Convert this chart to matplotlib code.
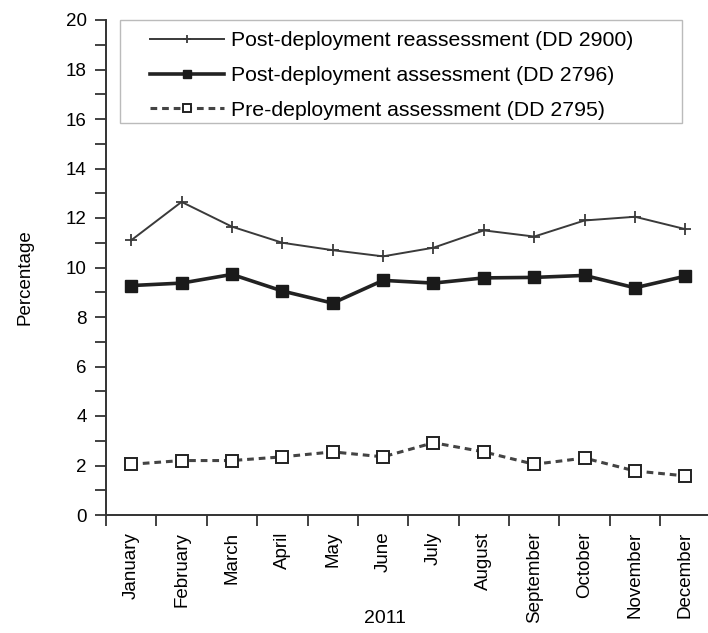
import matplotlib.pyplot as plt
import numpy as np
from matplotlib.patches import Rectangle
from matplotlib.ticker import FixedLocator, MultipleLocator

plt.rcParams["font.family"] = ["Liberation Sans", "DejaVu Sans"]

MONTHS = ["January", "February", "March", "April", "May", "June", "July",
          "August", "September", "October", "November", "December"]

REASSESS = [11.1, 12.65, 11.65, 11.0, 10.7, 10.45, 10.8, 11.5, 11.25, 11.9, 12.05, 11.55]
POST = [9.27, 9.37, 9.72, 9.05, 8.56, 9.48, 9.37, 9.58, 9.6, 9.68, 9.18, 9.65]
PRE = [2.05, 2.2, 2.2, 2.35, 2.55, 2.35, 2.92, 2.55, 2.05, 2.3, 1.78, 1.58]

LABELS = [
    "Post-deployment reassessment (DD 2900)",
    "Post-deployment assessment (DD 2796)",
    "Pre-deployment assessment (DD 2795)",
]


def plot():
    fig = plt.figure(figsize=(7.08, 6.33), dpi=100)
    ax = fig.add_axes([106 / 708, 1 - 515 / 633, 1 - 106 / 708, (515 - 20) / 633])
    x = np.arange(len(MONTHS))

    ax.plot(x, REASSESS, color="#3a3a3a", lw=1.4, marker="+", ms=9, mew=1.3,
            label=LABELS[0])
    ax.plot(x, POST, color="#222222", lw=2.6, marker="s", ms=9,
            mfc="#1a1a1a", mec="#1a1a1a", label=LABELS[1])
    ax.plot(x, PRE, color="#444444", lw=2.2, ls=(0, (2.2, 1.6)), marker="s", ms=8.5,
            mfc="white", mec="#222222", mew=1.4, label=LABELS[2])

    ax.set_xlim(-0.5, 11.45)
    ax.set_ylim(0, 20)
    ax.yaxis.set_major_locator(MultipleLocator(2))
    ax.yaxis.set_minor_locator(MultipleLocator(1))
    ax.xaxis.set_major_locator(FixedLocator(x))
    ax.xaxis.set_minor_locator(FixedLocator(np.arange(-0.5, 11.5, 1.0)))
    ax.set_xticklabels(MONTHS, rotation=90, fontsize=13.5)
    ax.tick_params(axis="x", which="major", length=0, pad=12)
    ax.tick_params(axis="x", which="minor", length=8, width=1.3, direction="out", color="#333333")
    ax.tick_params(axis="y", which="both", length=8, width=1.3, color="#333333",
                   labelsize=13.5, pad=6)
    for s in ("top", "right"):
        ax.spines[s].set_visible(False)
    for s in ("left", "bottom"):
        ax.spines[s].set_linewidth(1.4)
        ax.spines[s].set_color("#333333")

    ax.set_ylabel("Percentage", fontsize=13.5)
    ax.yaxis.set_label_coords(-0.121, 0.48)
    ax.set_xlabel("2011", fontsize=14)
    ax.xaxis.set_label_coords(0.463, -0.192)

    # legend without its own frame; box drawn separately (wide left margin in original)
    ax.legend(loc="upper left", bbox_to_anchor=(0.073, 0.977), fontsize=15.3,
              frameon=False, handlelength=3.5, markerscale=0.6,
              handletextpad=0.33, borderpad=0.0, labelspacing=0.74,
              borderaxespad=0.0)
    ax.add_patch(Rectangle((0.0233, 0.792), 0.934, 0.208, transform=ax.transAxes,
                           fill=False, edgecolor="#bbbbbb", lw=1.0, clip_on=False))

    fig.savefig("out.png", dpi=100)


if __name__ == "__main__":
    plot()
